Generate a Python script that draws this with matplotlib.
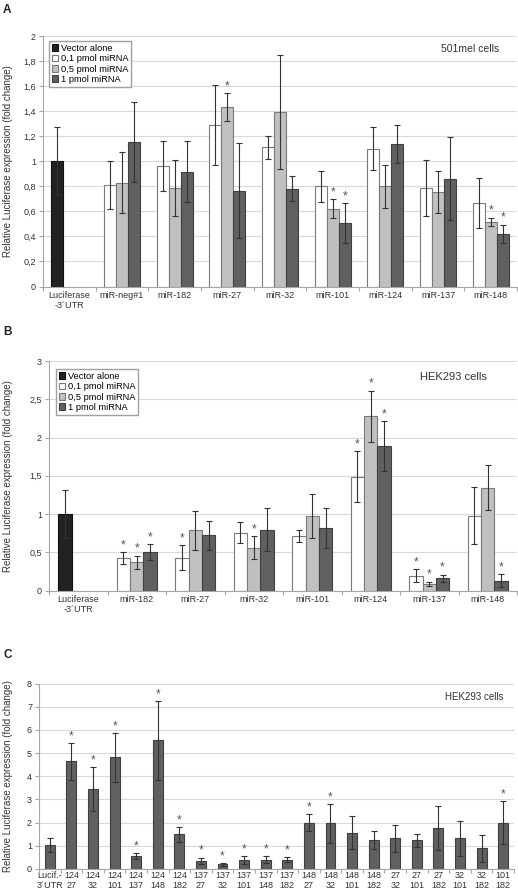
import matplotlib
matplotlib.use('Agg')
import matplotlib.pyplot as plt
import numpy as np
from matplotlib.ticker import FuncFormatter

plt.rcParams['font.family'] = ['Liberation Sans', 'DejaVu Sans']

# ---------------- data ----------------
series_labels = ['Vector alone', '0,1 pmol miRNA', '0,5 pmol miRNA', '1 pmol miRNA']
ctrl_label = 'Luciferase\n-3´UTR'

# Panel A (501mel cells)
a_groups = ['miR-neg#1', 'miR-182', 'miR-27', 'miR-32', 'miR-101', 'miR-124', 'miR-137', 'miR-148']
a_ctrl, a_ctrl_err = 1.0, 0.27
a_01 = [0.81, 0.96, 1.29, 1.11, 0.80, 1.10, 0.785, 0.665]
a_01_err = [0.19, 0.20, 0.32, 0.09, 0.125, 0.17, 0.225, 0.20]
a_05 = [0.83, 0.787, 1.435, 1.397, 0.62, 0.80, 0.755, 0.515]
a_05_err = [0.24, 0.225, 0.11, 0.455, 0.077, 0.17, 0.17, 0.035]
a_1 = [1.155, 0.917, 0.765, 0.78, 0.505, 1.14, 0.86, 0.42]
a_1_err = [0.32, 0.244, 0.38, 0.10, 0.16, 0.15, 0.33, 0.075]
a_01_star = [0, 0, 0, 0, 0, 0, 0, 0]
a_05_star = [0, 0, 1, 0, 1, 0, 0, 1]
a_1_star = [0, 0, 0, 0, 1, 0, 0, 1]

# Panel B (HEK293 cells)
b_groups = ['miR-182', 'miR-27', 'miR-32', 'miR-101', 'miR-124', 'miR-137', 'miR-148']
b_ctrl, b_ctrl_err = 1.0, 0.32
b_01 = [0.42, 0.43, 0.757, 0.709, 1.487, 0.196, 0.978]
b_01_err = [0.08, 0.16, 0.135, 0.078, 0.33, 0.087, 0.37]
b_05 = [0.367, 0.785, 0.56, 0.97, 2.278, 0.091, 1.343]
b_05_err = [0.09, 0.257, 0.15, 0.29, 0.335, 0.026, 0.296]
b_1 = [0.50, 0.72, 0.796, 0.817, 1.887, 0.157, 0.13]
b_1_err = [0.107, 0.19, 0.28, 0.255, 0.33, 0.052, 0.087]
b_01_star = [1, 1, 0, 0, 1, 1, 0]
b_05_star = [1, 0, 1, 0, 1, 1, 0]
b_1_star = [1, 0, 0, 0, 1, 1, 1]

# Panel C (HEK293 cells, combinations)
c_labels = ['Lucif.-\n3´UTR', '124\n27', '124\n32', '124\n101', '124\n137', '124\n148', '124\n182',
            '137\n27', '137\n32', '137\n101', '137\n148', '137\n182', '148\n27', '148\n32',
            '148\n101', '148\n182', '27\n32', '27\n101', '27\n182', '32\n101', '32\n182', '101\n182']
c_vals = [1.02, 4.64, 3.45, 4.81, 0.56, 5.55, 1.49, 0.345, 0.20, 0.40, 0.40, 0.40, 2.0, 1.97,
          1.57, 1.26, 1.32, 1.24, 1.78, 1.32, 0.89, 2.0]
c_errs = [0.30, 0.79, 0.93, 1.05, 0.12, 1.70, 0.32, 0.15, 0.06, 0.165, 0.16, 0.10, 0.37, 0.84,
          0.71, 0.39, 0.57, 0.27, 0.94, 0.77, 0.57, 0.92]
c_stars = [0, 1, 1, 1, 1, 1, 1, 1, 1, 1, 1, 1, 1, 1, 0, 0, 0, 0, 0, 0, 0, 1]

# ---------------- styling ----------------
W, H = 518, 892
colors = ['#222222', '#ffffff', '#c0c0c0', '#606060']
edges = ['#111111', '#7a7a7a', '#7a7a7a', '#404040']
AXC = '#a6a6a6'
TXT = '#333333'
ERR = '#333333'
STAR = '#555555'


def fmt(v, _):
    return ('%g' % round(v, 2)).replace('.', ',')


def style_axis(ax, labels, ymax, step, pad=3.5):
    n = len(labels)
    ax.set_xlim(-0.5, n - 0.5)
    ax.set_ylim(0, ymax)
    ax.set_yticks(np.arange(0, ymax + 1e-9, step))
    ax.yaxis.set_major_formatter(FuncFormatter(fmt))
    ax.grid(axis='y', color='#d9d9d9', lw=0.8)
    ax.set_axisbelow(True)
    for s in ['top', 'right']:
        ax.spines[s].set_visible(False)
    for s in ['left', 'bottom']:
        ax.spines[s].set_color(AXC)
        ax.spines[s].set_linewidth(0.8)
    ax.set_xticks(range(n))
    ax.set_xticklabels(labels, linespacing=1.15)
    ax.set_xticks(np.arange(-0.5, n, 1), minor=True)
    ax.tick_params(axis='x', which='major', length=0, pad=pad, labelsize=6.5, labelcolor=TXT)
    ax.tick_params(axis='x', which='minor', length=3, color=AXC, width=0.8)
    ax.tick_params(axis='y', length=3, color=AXC, width=0.8, labelsize=6.5, labelcolor=TXT, pad=2)


def stars(ax, xs, ys, es, flags, fs=8.5):
    for x, y, e, f in zip(xs, ys, es, flags):
        if f:
            ax.annotate('*', (x, y + e), xytext=(0, 0.5), textcoords='offset points',
                        ha='center', va='bottom', fontsize=fs, color=STAR)


def dose_panel(ax, groups, ctrl, ctrl_err, means, errs, flags, ymax, step, w):
    labels = [ctrl_label] + groups
    style_axis(ax, labels, ymax, step)
    ax.bar([0 - w], [ctrl], width=w, color=colors[0], edgecolor=edges[0], lw=0.8,
           label=series_labels[0], zorder=2)
    ax.errorbar([0 - w], [ctrl], yerr=[ctrl_err], fmt='none', ecolor=ERR, elinewidth=0.8,
                capsize=2.5, capthick=0.8, zorder=3)
    gx = np.arange(1, len(groups) + 1)
    for k, (m, e, f) in enumerate(zip(means, errs, flags)):
        xs = gx + (k - 1) * w
        ax.bar(xs, m, width=w, color=colors[k + 1], edgecolor=edges[k + 1], lw=0.8,
               label=series_labels[k + 1], zorder=2)
        ax.errorbar(xs, m, yerr=e, fmt='none', ecolor=ERR, elinewidth=0.8,
                    capsize=2.5, capthick=0.8, zorder=3)
        stars(ax, xs, m, e, f)


fig = plt.figure(figsize=(W / 100, H / 100), dpi=100)

# Panel A
axA = fig.add_axes([43 / W, 1 - 286.5 / H, 474 / W, 250.5 / H])
dose_panel(axA, a_groups, a_ctrl, a_ctrl_err, [a_01, a_05, a_1], [a_01_err, a_05_err, a_1_err],
           [a_01_star, a_05_star, a_1_star], 2, 0.2, 0.228)
axA.legend(loc='upper left', bbox_to_anchor=(0.0127, 0.98), borderaxespad=0, fontsize=6.7,
           handlelength=0.7, handleheight=0.7, handletextpad=0.25, labelspacing=0.15,
           borderpad=0.3, fancybox=False, edgecolor='#a0a0a0', framealpha=1)
axA.text(0.962, 0.948, '501mel cells', transform=axA.transAxes, ha='right', va='center',
         fontsize=7.5, color=TXT)

# Panel B
axB = fig.add_axes([49 / W, 1 - 590.5 / H, 468 / W, 229.5 / H])
dose_panel(axB, b_groups, b_ctrl, b_ctrl_err, [b_01, b_05, b_1], [b_01_err, b_05_err, b_1_err],
           [b_01_star, b_05_star, b_1_star], 3, 0.5, 0.227)
axB.legend(loc='upper left', bbox_to_anchor=(0.015, 0.965), borderaxespad=0, fontsize=6.7,
           handlelength=0.7, handleheight=0.7, handletextpad=0.25, labelspacing=0.15,
           borderpad=0.3, fancybox=False, edgecolor='#a0a0a0', framealpha=1)
axB.text(0.936, 0.930, 'HEK293 cells', transform=axB.transAxes, ha='right', va='center',
         fontsize=8, color=TXT)

# Panel C
axC = fig.add_axes([39 / W, 1 - 869 / H, 475 / W, 185.5 / H])
style_axis(axC, c_labels, 8, 1, pad=1.5)
cx = np.arange(len(c_vals))
axC.bar(cx, c_vals, width=0.46, color=colors[3], edgecolor=edges[3], lw=0.8, zorder=2)
axC.errorbar(cx, c_vals, yerr=c_errs, fmt='none', ecolor=ERR, elinewidth=0.8,
             capsize=2.5, capthick=0.8, zorder=3)
stars(axC, cx, c_vals, c_errs, c_stars)
axC.text(0.977, 0.927, 'HEK293 cells', transform=axC.transAxes, ha='right', va='center',
         fontsize=7, color=TXT)

ylab = 'Relative Luciferase expression (fold change)'
for ax, x in [(axA, -0.063), (axB, -0.077), (axC, -0.055)]:
    ax.set_ylabel(ylab, fontsize=7, color=TXT)
    ax.yaxis.set_label_coords(x, 0.5)

for lab, y in [('A', 10), ('B', 332), ('C', 655)]:
    fig.text(3 / W, 1 - y / H, lab, fontsize=8.5, fontweight='bold', ha='left', va='center',
             color='#222222')

fig.savefig('out.png', dpi=100)
